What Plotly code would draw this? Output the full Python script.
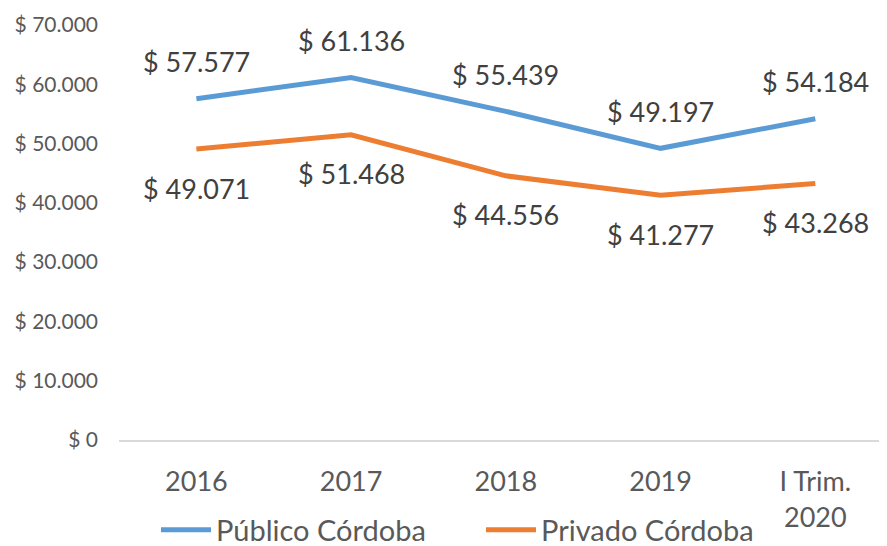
import plotly.graph_objects as go

categories = ["2016", "2017", "2018", "2019", "I Trim.<br>2020"]
publico = [57577, 61136, 55439, 49197, 54184]
privado = [49071, 51468, 44556, 41277, 43268]
publico_labels = ["$ 57.577", "$ 61.136", "$ 55.439", "$ 49.197", "$ 54.184"]
privado_labels = ["$ 49.071", "$ 51.468", "$ 44.556", "$ 41.277", "$ 43.268"]
y_ticks = [0, 10000, 20000, 30000, 40000, 50000, 60000, 70000]
y_ticktext = ["$ 0", "$ 10.000", "$ 20.000", "$ 30.000", "$ 40.000", "$ 50.000", "$ 60.000", "$ 70.000"]

BLUE = "#5B9BD5"
ORANGE = "#ED7D31"
FONT = "Lato"

fig = go.Figure()
fig.add_trace(go.Scatter(x=categories, y=publico, mode="lines", name="Público Córdoba",
                         line=dict(color=BLUE, width=5)))
fig.add_trace(go.Scatter(x=categories, y=privado, mode="lines", name="Privado Córdoba",
                         line=dict(color=ORANGE, width=5)))

for i, (v, t) in enumerate(zip(publico, publico_labels)):
    fig.add_annotation(x=i, y=v, text=t, showarrow=False, yshift=37,
                       font=dict(family=FONT, size=27, color="#404040"))
for i, (v, t) in enumerate(zip(privado, privado_labels)):
    fig.add_annotation(x=i, y=v, text=t, showarrow=False, yshift=-39,
                       font=dict(family=FONT, size=27, color="#404040"))

fig.update_layout(
    width=887, height=546,
    margin=dict(l=111, r=0, t=17, b=114),
    paper_bgcolor="white", plot_bgcolor="white",
    font=dict(family=FONT, color="#595959"),
    showlegend=True,
    legend=dict(orientation="h", xref="container", yref="container",
                x=148 / 887, xanchor="left", y=0.044, yanchor="middle",
                font=dict(family=FONT, size=29, color="#595959"),
                itemwidth=50, entrywidth=260, bgcolor="rgba(0,0,0,0)"),
    xaxis=dict(type="category", range=[-0.5, 4.515], showgrid=False,
               showline=True, linecolor="#D9D9D9", linewidth=2,
               ticks="", tickfont=dict(family=FONT, size=27, color="#595959"),
               ticklabelstandoff=17, zeroline=False, automargin=False),
    yaxis=dict(range=[0, 70000], tickvals=y_ticks, ticktext=y_ticktext,
               showgrid=False, zeroline=False, showline=False, ticks="",
               tickfont=dict(family=FONT, size=21, color="#595959"),
               ticklabelstandoff=20, automargin=False),
)

fig.write_html("out.html")
